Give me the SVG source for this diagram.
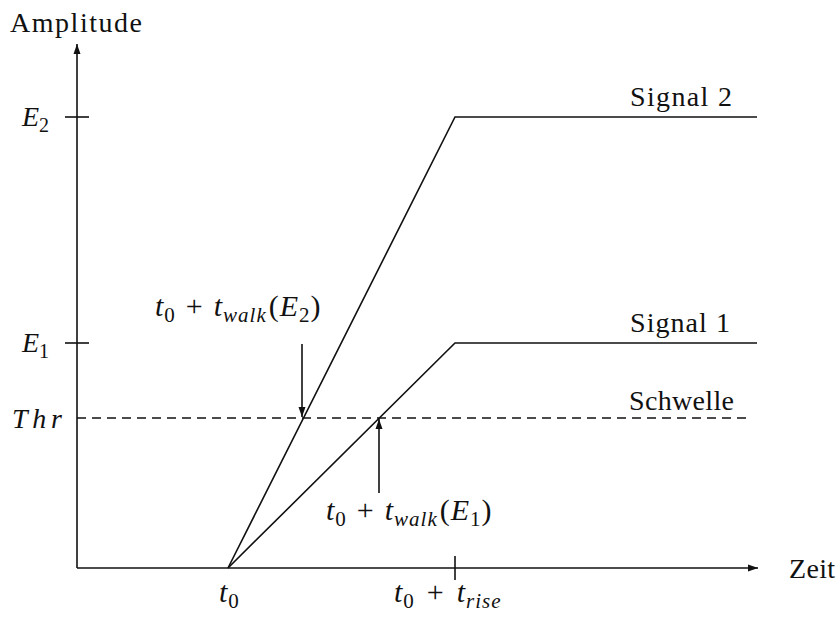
<svg xmlns="http://www.w3.org/2000/svg" width="840" height="617" viewBox="0 0 840 617">
<style>
text{font-family:"Liberation Serif","DejaVu Serif",serif;font-size:28px;fill:#111}
.m{letter-spacing:1px;font-size:30px}
.i{font-style:italic}
.s{font-size:20px}
.m .s{font-size:21px}
.ln{stroke:#111;stroke-width:1.6;fill:none}
.dash{stroke:#111;stroke-width:1.4;stroke-dasharray:9,6;fill:none}
</style>
<defs>
<marker id="ah" viewBox="0 0 10 10" refX="10" refY="5" markerWidth="10" markerHeight="10" markerUnits="userSpaceOnUse" orient="auto">
<path d="M0,1.5 L10,5 L0,8.5 Z" fill="#111"/>
</marker>
</defs>
<g id="connectors">
<line class="ln" x1="77" y1="568" x2="77" y2="44" marker-end="url(#ah)"/>
<line class="ln" x1="77" y1="568" x2="758" y2="568" marker-end="url(#ah)"/>
<line class="ln" x1="65" y1="117" x2="89" y2="117"/>
<line class="ln" x1="65" y1="343" x2="89" y2="343"/>
<line class="ln" x1="455" y1="556" x2="455" y2="580"/>
<line class="dash" x1="77" y1="418" x2="752" y2="418"/>
<polyline class="ln" points="228,568 455,117 757,117"/>
<polyline class="ln" points="228,568 455,343 757,343"/>
<line class="ln" x1="302" y1="344" x2="302" y2="417" marker-end="url(#ah)"/>
<line class="ln" x1="379" y1="493" x2="379" y2="419" marker-end="url(#ah)"/>
</g>
<g id="amplitude"><text x="10" y="32" textLength="132" lengthAdjust="spacing">Amplitude</text></g>
<g id="zeit"><text x="789" y="578" textLength="46" lengthAdjust="spacing">Zeit</text></g>
<g id="e2"><text x="22" y="126"><tspan class="i">E</tspan><tspan class="s" dy="6">2</tspan></text></g>
<g id="e1"><text x="22" y="352"><tspan class="i">E</tspan><tspan class="s" dy="6">1</tspan></text></g>
<g id="thr"><text x="12" y="428" class="i" textLength="50" lengthAdjust="spacing">Thr</text></g>
<g id="signal2"><text x="630" y="106" textLength="102" lengthAdjust="spacing">Signal 2</text></g>
<g id="signal1"><text x="630" y="332" textLength="100" lengthAdjust="spacing">Signal 1</text></g>
<g id="schwelle"><text x="629" y="410" textLength="105" lengthAdjust="spacing">Schwelle</text></g>
<g id="walk2"><text class="m" x="155" y="316"><tspan class="i">t</tspan><tspan class="s" dy="6">0</tspan><tspan dx="10" dy="-6">+</tspan><tspan class="i" dx="10">t</tspan><tspan class="s i" dy="6">walk</tspan><tspan dx="2" dy="-6">(</tspan><tspan class="i">E</tspan><tspan class="s" dy="6">2</tspan><tspan dy="-6">)</tspan></text></g>
<g id="walk1"><text class="m" x="326" y="520"><tspan class="i">t</tspan><tspan class="s" dy="6">0</tspan><tspan dx="10" dy="-6">+</tspan><tspan class="i" dx="10">t</tspan><tspan class="s i" dy="6">walk</tspan><tspan dx="2" dy="-6">(</tspan><tspan class="i">E</tspan><tspan class="s" dy="6">1</tspan><tspan dy="-6">)</tspan></text></g>
<g id="t0"><text class="m" x="219" y="602"><tspan class="i">t</tspan><tspan class="s" dy="6">0</tspan></text></g>
<g id="trise"><text class="m" x="394" y="602"><tspan class="i">t</tspan><tspan class="s" dy="6">0</tspan><tspan dx="12" dy="-6">+</tspan><tspan class="i" dx="12">t</tspan><tspan class="s i" dy="6">rise</tspan></text></g>
</svg>
